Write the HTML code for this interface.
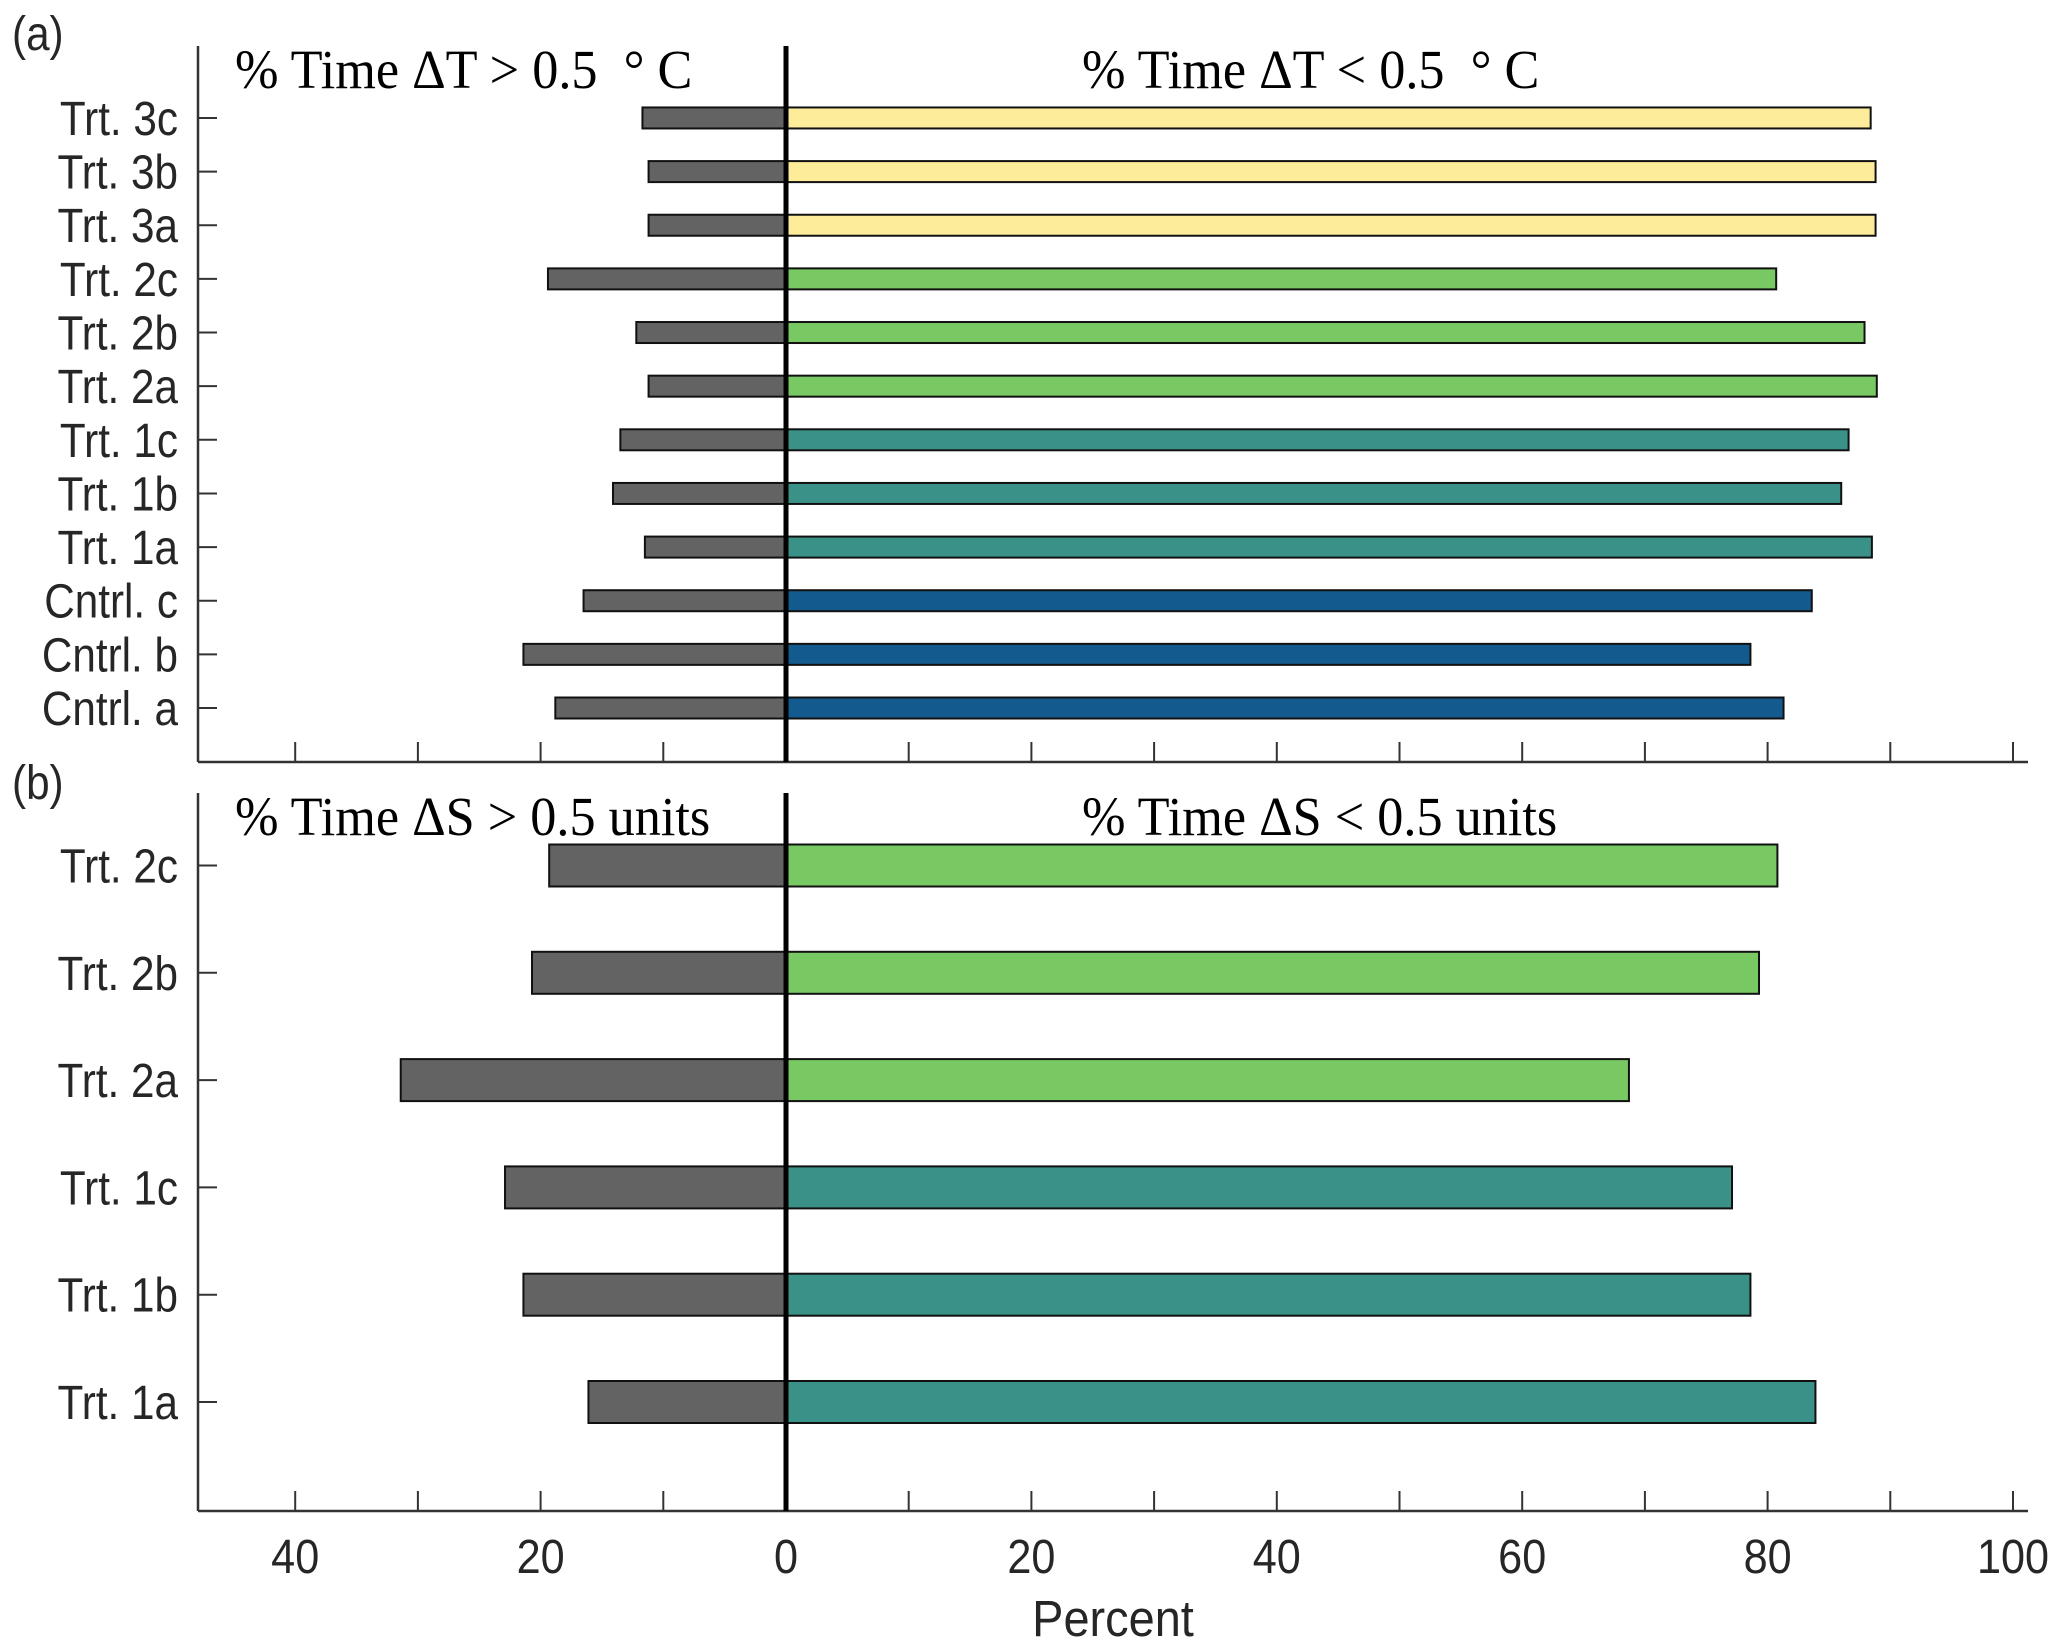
<!DOCTYPE html>
<html><head><meta charset="utf-8"><style>
html,body{margin:0;padding:0;background:#fff;}
svg{display:block;}
.tk{font-family:"Liberation Sans",sans-serif;font-size:48px;fill:#262626;}
.ttl{font-family:"Liberation Serif",serif;font-size:55px;fill:#000;}
</style></head><body>
<svg id="chart" width="2067" height="1652" viewBox="0 0 2067 1652" xmlns="http://www.w3.org/2000/svg"></svg>
<script>
const catsA = ["Cntrl. a","Cntrl. b","Cntrl. c","Trt. 1a","Trt. 1b","Trt. 1c","Trt. 2a","Trt. 2b","Trt. 2c","Trt. 3a","Trt. 3b","Trt. 3c"];
const aboveA = [18.8,21.4,16.5,11.5,14.1,13.5,11.2,12.2,19.4,11.2,11.2,11.7];
const belowA = [81.3,78.6,83.6,88.5,86.0,86.6,88.9,87.9,80.7,88.8,88.8,88.4];
const colorsA = ["#135b8e","#135b8e","#135b8e","#3a9188","#3a9188","#3a9188","#78c964","#78c964","#78c964","#fdec9a","#fdec9a","#fdec9a"];
const catsB = ["Trt. 1a","Trt. 1b","Trt. 1c","Trt. 2a","Trt. 2b","Trt. 2c"];
const aboveB = [16.1,21.4,22.9,31.4,20.7,19.3];
const belowB = [83.9,78.6,77.1,68.7,79.3,80.8];
const colorsB = ["#3a9188","#3a9188","#3a9188","#78c964","#78c964","#78c964"];
const xTicks = [-40,-30,-20,-10,0,10,20,30,40,50,60,70,80,90,100];
const xTickLabels = [-40,-20,0,20,40,60,80,100];

const NS="http://www.w3.org/2000/svg";
const svg=document.getElementById('chart');
const X0=786, PX=12.27;
const xs=v=>X0+v*PX;
const AXL=198, AXR=2028;
function mk(tag,attrs,parent){const e=document.createElementNS(NS,tag);for(const k in attrs)e.setAttribute(k,attrs[k]);(parent||svg).appendChild(e);return e;}
function txt(x,y,anchor,cls,parent,sx){return mk('text',{x:0,y:0,'text-anchor':anchor,class:cls,transform:'translate('+x+','+y+') scale('+sx+',1)'},parent);}

function panel(p){
  const g=mk('g',{});
  
  
  const ys=i=>p.y0-i*p.step;
  p.cats.forEach((c,i)=>{
    const y=ys(i);
    const l=mk('rect',{x:xs(-p.above[i]),y:y-p.bh/2,width:p.above[i]*PX,height:p.bh,fill:'#636363',stroke:'#111','stroke-width':2},g);
    
    
    const r=mk('rect',{x:X0,y:y-p.bh/2,width:p.below[i]*PX,height:p.bh,fill:p.colors[i],stroke:'#111','stroke-width':2},g);
    
    
    mk('line',{x1:AXL,x2:AXL+19,y1:y,y2:y,stroke:'#333','stroke-width':2},g);
    const t=txt(178,y+17,'end','tk',g,0.88);
    t.textContent=c;
    
    
  });
  const yl=mk('line',{x1:AXL,x2:AXL,y1:p.top,y2:p.bot,stroke:'#333','stroke-width':2.5},g);
  
  
  const xl=mk('line',{x1:AXL,x2:AXR,y1:p.bot,y2:p.bot,stroke:'#333','stroke-width':2.5},g);
  
  
  xTicks.forEach(v=>{mk('line',{x1:xs(v),x2:xs(v),y1:p.bot,y2:p.bot-20,stroke:'#333','stroke-width':2},g);});
  const z=mk('line',{x1:X0,x2:X0,y1:p.top,y2:p.bot,stroke:'#000','stroke-width':5},g);
  
  
  const t1=txt(235,p.tb,'start','ttl',g,0.95);t1.textContent=p.t1;
  
  
  const t2=txt(1082,p.tb,'start','ttl',g,0.95);t2.textContent=p.t2;
  
  
  const pl=txt(12,p.lb,'start','tk',g,0.88);pl.textContent=p.lab;
  
  
}
panel({name:'panel-a',cats:catsA,above:aboveA,below:belowA,colors:colorsA,y0:708,step:53.64,bh:21,top:46,bot:762,tb:88,lb:50,lab:'(a)',t1:'% Time \u0394T > 0.5 \u00A0\u00B0 C',t2:'% Time \u0394T < 0.5 \u00A0\u00B0 C'});
panel({name:'panel-b',cats:catsB,above:aboveB,below:belowB,colors:colorsB,y0:1402,step:107.3,bh:42,top:793,bot:1511,tb:835,lb:799,lab:'(b)',t1:'% Time \u0394S > 0.5 units',t2:'% Time \u0394S < 0.5 units'});
xTickLabels.forEach(v=>{
  const t=txt(xs(v),1573,'middle','tk',null,0.9);
  t.textContent=Math.abs(v);
  
  
});
const xt=mk('text',{x:0,y:0,'text-anchor':'middle',class:'tk',style:'font-size:51px',transform:'translate(1113,1636) scale(0.92,1)'});
xt.textContent='Percent';


</script>
</body></html>
